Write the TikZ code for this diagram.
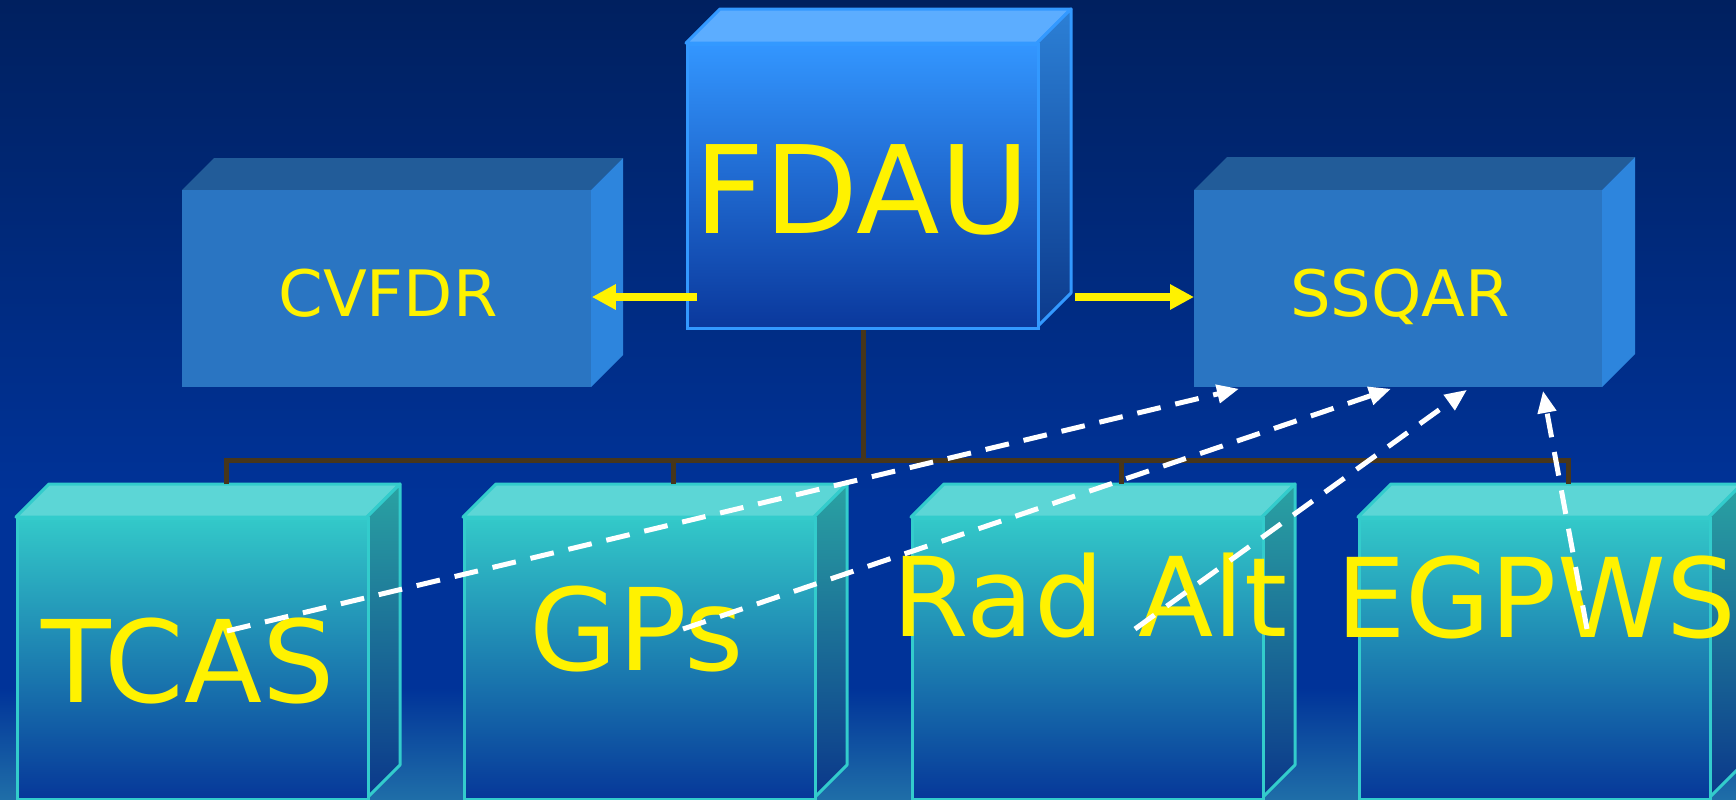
\documentclass[tikz,border=0pt]{standalone}
\usepackage{fontspec}
\setmainfont{DejaVu Sans}
\usetikzlibrary{arrows.meta,calc}

\definecolor{skytop}{HTML}{00205F}
\definecolor{skymid}{HTML}{003399}
\definecolor{skylow}{HTML}{1F6EA8}
\definecolor{fdauhi}{HTML}{3396FF}
\definecolor{fdaulo}{HTML}{0A389C}
\definecolor{fdaulid}{HTML}{5CADFF}
\definecolor{fdausidehi}{HTML}{2C80D6}
\definecolor{fdausidelo}{HTML}{0C3A8C}
\definecolor{fdauedge}{HTML}{3399FF}
\definecolor{recface}{HTML}{2A75C2}
\definecolor{reclid}{HTML}{225C99}
\definecolor{recside}{HTML}{2D85DD}
\definecolor{senshi}{HTML}{33C9C9}
\definecolor{sensmid}{HTML}{2599B6}
\definecolor{senslo}{HTML}{063799}
\definecolor{senslid}{HTML}{5CD6D6}
\definecolor{senssidehi}{HTML}{2AA3A3}
\definecolor{senssidemid}{HTML}{1F7A90}
\definecolor{senssidelo}{HTML}{0B378A}
\definecolor{sensedge}{HTML}{33CCCC}
\definecolor{busbrown}{HTML}{47361A}

% name, left, top, width, height, depth, kind
\newcommand{\crate}[7]{%
  \path[#7 lid] (#2,#3) -- ++(#6,-#6) -- ++(#4,0) -- ++(-#6,#6) -- cycle;
  \path[#7 side] (#2+#4,#3) -- ++(#6,-#6) -- ++(0,#5) -- ++(-#6,#6) -- cycle;
  \node[#7 face, anchor=north west, minimum width=#4*0.5pt,
        minimum height=#5*0.5pt] (#1) at (#2,#3) {};
}

\tikzset{
  fdau face/.style={inner sep=0pt, top color=fdauhi, bottom color=fdaulo, draw=fdauedge, line width=1.5pt},
  fdau lid/.style={fill=fdaulid, draw=fdauedge, line width=1.5pt, line join=round},
  fdau side/.style={top color=fdausidehi, bottom color=fdausidelo, draw=fdauedge, line width=1.5pt, line join=round},
  rec face/.style={inner sep=0pt, fill=recface},
  rec lid/.style={fill=reclid},
  rec side/.style={fill=recside},
  sens face/.style={inner sep=0pt, top color=senshi, middle color=sensmid, bottom color=senslo, draw=sensedge, line width=1.5pt},
  sens lid/.style={fill=senslid, draw=sensedge, line width=1.5pt, line join=round},
  sens side/.style={top color=senssidehi, middle color=senssidemid, bottom color=senssidelo, draw=sensedge, line width=1.5pt, line join=round},
  tag/.style={text=yellow, inner sep=0pt, anchor=base},
  bigtag/.style={tag, font=\fontsize{61pt}{61pt}\selectfont},
  midtag/.style={tag, font=\fontsize{32pt}{32pt}\selectfont},
  senstag/.style={tag, font=\fontsize{55pt}{55pt}\selectfont},
  bus/.style={draw=busbrown, line width=2.5pt},
  feed/.style={draw=yellow, line width=4pt, -{Triangle[length=12pt,width=12pt]}},
  tap/.style={draw=white, line width=2.5pt, dash pattern=on 12pt off 7.5pt,
              -{Triangle[length=11pt,width=9pt]}}
}

\begin{document}
\begin{tikzpicture}[x=0.5pt, y=-0.5pt]
  \useasboundingbox (0,0) rectangle (1736,799);
  \clip (0,0) rectangle (1736,799);

  % background
  \shade[top color=skytop, bottom color=skymid] (0,0) rectangle (1736,501);
  \fill[skymid] (0,500) rectangle (1736,689);
  \shade[top color=skymid, bottom color=skylow] (0,688) rectangle (1736,799);

  % recorders and acquisition unit
  \crate{cvfdr}{182}{190}{409}{197}{32}{rec}
  \crate{ssqar}{1194}{190}{408}{197}{33}{rec}
  \crate{fdau}{686}{43}{351}{284}{34}{fdau}

  % sensors
  \crate{tcasbox}{16}{517}{351}{281}{33}{sens}
  \crate{gpsbox}{463}{517}{351}{281}{33}{sens}
  \crate{radaltbox}{911}{517}{351}{281}{33}{sens}
  \crate{egpwsbox}{1358}{517}{351}{281}{33}{sens}

  % tree
  \draw[bus] (fdau.south) -- ++(0,133);
  \draw[bus] ($(tcasbox.north)+(33,-33)$) -- ++(0,-24) -| ($(egpwsbox.north)+(33,-33)$);
  \draw[bus] ($(gpsbox.north)+(33,-33)$) -- ++(0,-24);
  \draw[bus] ($(radaltbox.north)+(33,-33)$) -- ++(0,-24);

  % labels
  \node[bigtag] (fdaulabel) at (862,233) {FDAU};
  \node[midtag] (cvfdrlabel) at (388,316) {CVFDR};
  \node[midtag] (ssqarlabel) at (1400,316) {SSQAR};
  \node[senstag, font=\fontsize{57pt}{57pt}\selectfont] (tcas) at (188,702) {TCAS};
  \node[senstag, font=\fontsize{57pt}{57pt}\selectfont] (gps) at (637,670) {GPs};
  \node[senstag] (radalt) at (1090,636) {Rad Alt};
  \node[senstag] (egpws) at (1536,637) {EGPWS};

  % yellow feeds
  \coordinate (fdau-l) at (697,297);
  \coordinate (fdau-r) at (1075,297);
  \draw[feed] (fdau-l) -- (cvfdr.east |- fdau-l);
  \draw[feed] (fdau-r) -- (ssqar.west |- fdau-r);

  % dashed links to the recorder
  \coordinate (tcas-tap) at (227,631);
  \coordinate (gps-tap) at (683,629);
  \coordinate (radalt-tap) at (1135,629);
  \coordinate (egpws-tap) at (1587,629);
  \draw[tap] (tcas-tap) -- ($(ssqar.south west)+(45,1)$);
  \draw[tap] (gps-tap) -- ($(ssqar.south west)+(197,1)$);
  \draw[tap] (radalt-tap) -- ($(ssqar.south west)+(273,2)$);
  \draw[tap] (egpws-tap) -- ($(ssqar.south west)+(349,3)$);
\end{tikzpicture}
\end{document}
